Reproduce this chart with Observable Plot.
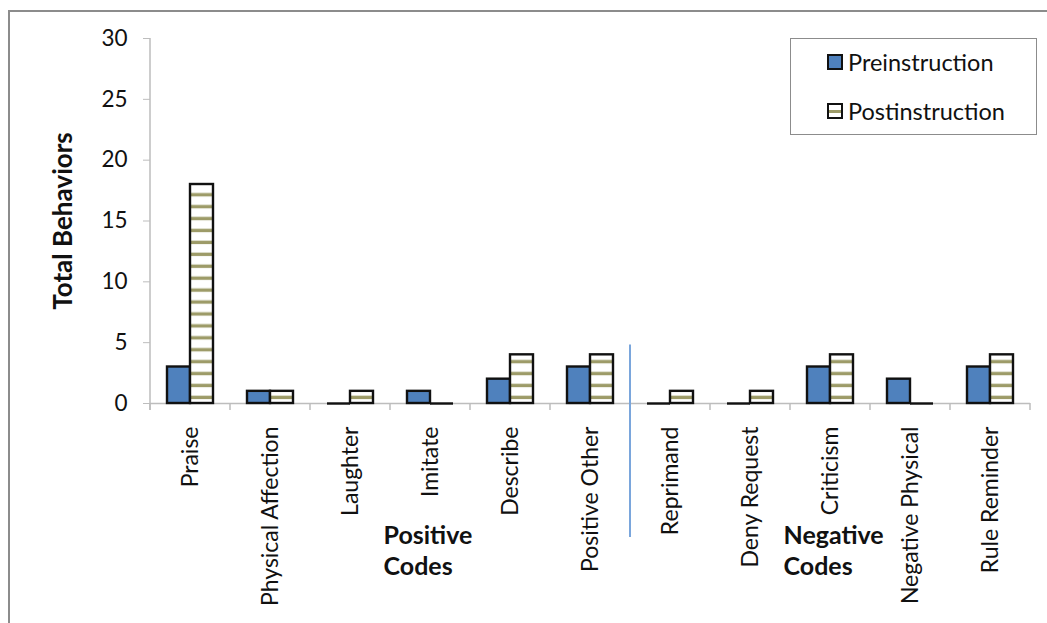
<!DOCTYPE html>
<html><head><meta charset="utf-8">
<script src="https://cdn.jsdelivr.net/npm/d3@7"></script>
<script src="https://cdn.jsdelivr.net/npm/@observablehq/plot@0.6"></script>
<style>
body{margin:0;background:#fff;font-family:Lato, sans-serif;}
#wrap{position:relative;width:1047px;height:623px;overflow:hidden;}
#border{position:absolute;left:8px;top:10px;width:1060px;height:640px;border-top:2px solid #8c8c8c;border-left:2px solid #8c8c8c;}
#legend{position:absolute;left:790px;top:38px;width:245px;height:95px;border:1px solid #8c8c8c;background:#fff;font-size:23.5px;color:#111;}
#legend .item{position:absolute;left:36px;display:flex;align-items:center;white-space:nowrap;}
#legend .sw{display:inline-block;width:12px;height:12px;border:2px solid #111;margin-right:5px;}
#chart{position:absolute;left:0;top:0;}
</style></head><body>
<div id="wrap"><div id="border"></div><div id="chart"></div><div id="legend"></div></div>
<script>
const categories = ["Praise","Physical Affection","Laughter","Imitate","Describe","Positive Other","Reprimand","Deny Request","Criticism","Negative Physical","Rule Reminder"];
const series = ["Preinstruction","Postinstruction"];
const preValues = [3,1,0,1,2,3,0,0,3,2,3];
const postValues = [18,1,1,0,4,4,1,1,4,0,4];
const yTicks = [0,5,10,15,20,25,30];
const yTitle = [{at:"Praise", text:"Total Behaviors"}];
const groupLabels = [{at:"Imitate", text:"Positive\nCodes"},{at:"Criticism", text:"Negative\nCodes"}];
const dividerBefore = "Reprimand";

const rows = categories.flatMap((c,i)=>[
  {category:c, series:series[0], value:preValues[i]},
  {category:c, series:series[1], value:postValues[i]}
]);
const preRows = rows.filter(d=>d.series===series[0] && d.value>0);
const postRows = rows.filter(d=>d.series===series[1] && d.value>0);
const zeroRows = rows.filter(d=>d.value===0);

const chart = Plot.plot({
  width:1047, height:623,
  marginLeft:145, marginRight:12, marginTop:38, marginBottom:220,
  style:{fontFamily:"Lato, sans-serif", background:"transparent", overflow:"visible", color:"#111"},
  fx:{domain:categories, padding:0, label:null},
  x:{domain:series, paddingInner:0, paddingOuter:0.70, axis:null},
  y:{domain:[0,30], label:null},
  marks:[
    Plot.axisY({ticks:yTicks, tickSize:7, tickPadding:16, fontSize:22.5, stroke:"#bdbdbd", fill:"#111", label:null}),
    Plot.axisFx({anchor:"bottom", tickSize:0, tickRotate:-90, tickPadding:23, fontSize:23, fill:"#111", label:null}),
    Plot.ruleY([0], {stroke:"#bdbdbd", strokeWidth:1.5}),
    Plot.barY(preRows, {fx:"category", x:"series", y:"value", fill:"#4f81bd", stroke:"#111", strokeWidth:2.4}),
    Plot.barY(postRows, {fx:"category", x:"series", y:"value", fill:"url(#post-stripes)", stroke:"#111", strokeWidth:2.4}),
    Plot.tickY(zeroRows, {fx:"category", x:"series", y:"value", stroke:"#111", strokeWidth:2.4}),
    Plot.text(groupLabels, {fx:"at", text:"text", frameAnchor:"bottom-left", textAnchor:"start", lineAnchor:"top", dy:118, dx:-7, fontSize:25, fontWeight:"bold", lineHeight:1.26, fill:"#111"}),
    Plot.text(yTitle, {fx:"at", text:"text", frameAnchor:"left", textAnchor:"middle", rotate:-90, dx:-87, fontSize:26, fontWeight:"bold", fill:"#111"})
  ]
});
document.getElementById("chart").appendChild(chart);

// decorations derived from the library's scales
const svg = d3.select(chart);
const ys = chart.scale("y");
const fxs = chart.scale("fx");
const yApply = ys.apply ? (v)=>ys.apply(v) : d3.scaleLinear(ys.domain, ys.range);
const fxApply = fxs.apply ? (v)=>fxs.apply(v) : d3.scaleBand(fxs.domain, fxs.range);
const bw = fxs.bandwidth != null ? fxs.bandwidth : (fxs.range[1]-fxs.range[0])/categories.length;
const y0 = yApply(0), unit = yApply(0) - yApply(1);

const defs = svg.insert("defs", ":first-child");
const pat = defs.append("pattern").attr("id","post-stripes").attr("patternUnits","userSpaceOnUse")
  .attr("x",0).attr("y",y0).attr("width",10).attr("height",unit*0.98);
pat.append("rect").attr("width",10).attr("height",unit).attr("fill","#fff");
pat.append("rect").attr("y",unit*0.38).attr("width",10).attr("height",3.4).attr("fill","#9d9b68");

const deco = svg.append("g").attr("stroke","#bdbdbd");
const left = fxApply(categories[0]);
deco.append("line").attr("x1",left).attr("x2",left).attr("y1",yApply(30)).attr("y2",y0+7).attr("stroke-width",1.5);
const bounds = categories.map(c=>fxApply(c)).concat([fxApply(categories[categories.length-1])+bw]);
deco.selectAll("line.b").data(bounds).join("line").attr("class","b")
  .attr("x1",d=>d).attr("x2",d=>d).attr("y1",y0).attr("y2",y0+7).attr("stroke-width",1.5);
const dx = fxApply(dividerBefore);
svg.append("line").attr("x1",dx).attr("x2",dx).attr("y1",yApply(4.8)).attr("y2",y0+134)
  .attr("stroke","#7aa6dc").attr("stroke-width",2);

// legend
const legend = d3.select("#legend");
series.forEach((s,i)=>{
  const it = legend.append("div").attr("class","item").style("top", (i===0? 9 : 58)+"px");
  const box = it.append("span").attr("class","sw");
  if(i===0) box.style("background","#4f81bd");
  else box.style("background","linear-gradient(#fff 0 40%, #9d9b68 40% 70%, #fff 70%)");
  it.append("span").text(s);
});
</script>
</body></html>
